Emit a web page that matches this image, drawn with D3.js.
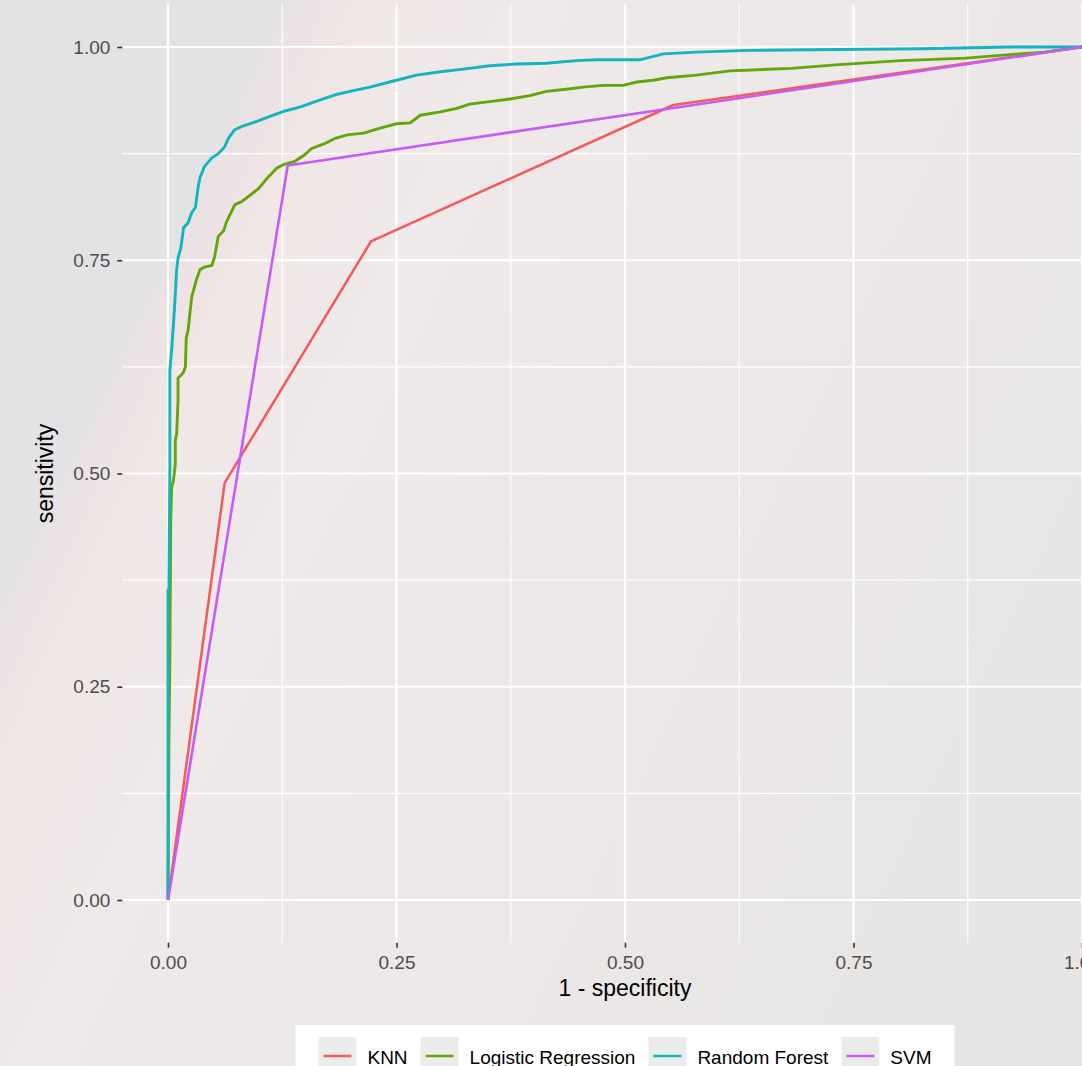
<!DOCTYPE html>
<html>
<head>
<meta charset="utf-8">
<script src="https://cdn.jsdelivr.net/npm/d3@7"></script>
<style>
	body { margin: 0; overflow: hidden; }
	svg { display: block; font-family: "Liberation Sans", Arial, sans-serif; }
</style>
</head>
<body>
<div id="container"></div>
<script>
const models = ["KNN", "Logistic Regression", "Random Forest", "SVM"];
const colors = ["#f35a5a", "#62a60a", "#12b5bb", "#c55cf7"];

const knnFpr = [0, 0.062, 0.222, 0.553, 1];
const knnTpr = [0, 0.489, 0.772, 0.932, 1];

const lrFpr = [0, 0.001, 0.002, 0.003, 0.004, 0.006, 0.008, 0.008, 0.0095, 0.011, 0.011, 0.015, 0.017, 0.019, 0.020, 0.022, 0.024, 0.026, 0.031, 0.035, 0.040, 0.048, 0.051, 0.055, 0.061, 0.064, 0.073, 0.081, 0.092, 0.099, 0.110, 0.119, 0.126, 0.139, 0.150, 0.157, 0.172, 0.183, 0.196, 0.214, 0.232, 0.250, 0.265, 0.276, 0.298, 0.316, 0.330, 0.352, 0.374, 0.396, 0.414, 0.440, 0.454, 0.476, 0.498, 0.513, 0.531, 0.546, 0.578, 0.615, 0.682, 0.730, 0.802, 0.873, 0.921, 0.959, 1];
const lrTpr = [0, 0.188, 0.276, 0.445, 0.484, 0.492, 0.512, 0.539, 0.547, 0.586, 0.612, 0.616, 0.619, 0.625, 0.659, 0.668, 0.688, 0.707, 0.727, 0.739, 0.742, 0.744, 0.754, 0.778, 0.785, 0.795, 0.815, 0.819, 0.828, 0.834, 0.848, 0.858, 0.862, 0.866, 0.874, 0.881, 0.887, 0.893, 0.897, 0.899, 0.905, 0.910, 0.911, 0.920, 0.924, 0.928, 0.933, 0.936, 0.939, 0.943, 0.948, 0.951, 0.953, 0.955, 0.955, 0.959, 0.961, 0.964, 0.967, 0.972, 0.975, 0.979, 0.984, 0.987, 0.991, 0.994, 1];

const rfFpr = [0, 0, 0.001, 0.002, 0.002, 0.004, 0.007, 0.0095, 0.011, 0.014, 0.017, 0.022, 0.026, 0.030, 0.033, 0.035, 0.040, 0.048, 0.055, 0.062, 0.066, 0.073, 0.081, 0.095, 0.110, 0.128, 0.146, 0.161, 0.183, 0.199, 0.221, 0.250, 0.272, 0.298, 0.323, 0.352, 0.381, 0.414, 0.447, 0.469, 0.516, 0.542, 0.578, 0.635, 0.730, 0.825, 0.920, 1];
const rfTpr = [0, 0.363, 0.366, 0.504, 0.621, 0.645, 0.692, 0.739, 0.753, 0.764, 0.788, 0.794, 0.806, 0.812, 0.836, 0.847, 0.860, 0.870, 0.875, 0.883, 0.893, 0.903, 0.907, 0.912, 0.918, 0.925, 0.930, 0.936, 0.944, 0.948, 0.953, 0.961, 0.967, 0.971, 0.974, 0.978, 0.980, 0.981, 0.984, 0.985, 0.985, 0.992, 0.994, 0.996, 0.997, 0.998, 1, 1];

const svmFpr = [0, 0.131, 1];
const svmTpr = [0, 0.861, 1];

const majorTicks = [0, 0.25, 0.5, 0.75, 1];
const minorTicks = [0.125, 0.375, 0.625, 0.875];

window.addEventListener("load", () => drawChart());

function drawChart() {
	const width = 1082;
	const height = 1066;

	const series = [
		{ name: models[0], fpr: knnFpr, tpr: knnTpr, w: 2.5 },
		{ name: models[1], fpr: lrFpr, tpr: lrTpr, w: 2.9 },
		{ name: models[2], fpr: rfFpr, tpr: rfTpr, w: 2.9 },
		{ name: models[3], fpr: svmFpr, tpr: svmTpr, w: 2.6 },
	];

	const colorScale = d3.scaleOrdinal().domain(models).range(colors);

	const xScale = d3.scaleLinear().domain([-0.05, 1.05]).range([122.3, 1127.7]);
	const yScale = d3.scaleLinear().domain([-0.05, 1.05]).range([942.65, 4.35]);

	const svg = d3
		.select("#container")
		.append("svg")
		.attr("width", width)
		.attr("height", height);

	// photo-like backdrop
	const grad = svg
		.append("defs")
		.append("linearGradient")
		.attr("id", "bg")
		.attr("gradientUnits", "userSpaceOnUse")
		.attr("x1", 0)
		.attr("y1", 0)
		.attr("x2", 1087)
		.attr("y2", 509);
	[
		[0, "#e2e2e4"],
		[0.21, "#e3e3e5"],
		[0.235, "#ede2e3"],
		[0.28, "#f1e7e7"],
		[0.4, "#efe9e9"],
		[0.7, "#ece8e8"],
		[1, "#e8e5e5"],
	].forEach(([o, c]) => grad.append("stop").attr("offset", o).attr("stop-color", c));

	svg.append("rect").attr("width", width).attr("height", height).attr("fill", "url(#bg)");

	// grid
	const grid = svg.append("g").attr("class", "grid");
	const [x0, x1] = xScale.range();
	const [y0, y1] = yScale.range();

	function gridLines(cls, ticks, vertical, w) {
		grid.selectAll("." + cls)
			.data(ticks)
			.enter()
			.append("line")
			.attr("class", cls)
			.attr("x1", (d) => (vertical ? xScale(d) : x0))
			.attr("x2", (d) => (vertical ? xScale(d) : x1))
			.attr("y1", (d) => (vertical ? y0 : yScale(d)))
			.attr("y2", (d) => (vertical ? y1 : yScale(d)))
			.attr("stroke", "#fff")
			.attr("stroke-width", w);
	}
	gridLines("vminor", minorTicks, true, 1.1);
	gridLines("hminor", minorTicks, false, 1.1);
	gridLines("vmajor", majorTicks, true, 2.2);
	gridLines("hmajor", majorTicks, false, 2.2);

	// axes
	const xAxis = d3
		.axisBottom(xScale)
		.tickValues(majorTicks)
		.tickFormat(d3.format(".2f"))
		.tickSize(5)
		.tickPadding(8);
	const yAxis = d3
		.axisLeft(yScale)
		.tickValues(majorTicks)
		.tickFormat(d3.format(".2f"))
		.tickSize(5)
		.tickPadding(7);

	const gx = svg.append("g").attr("transform", `translate(0, ${y0})`).call(xAxis);
	const gy = svg.append("g").attr("transform", `translate(${x0}, 0)`).call(yAxis);
	[gx, gy].forEach((g) => {
		g.select(".domain").remove();
		g.selectAll(".tick line").attr("stroke", "#333").attr("stroke-width", 1.6);
		g.selectAll(".tick text")
			.attr("fill", "#4d4d4d")
			.style("font-size", "19px")
			.style("font-family", "Liberation Sans, Arial, sans-serif");
	});

	svg.append("text")
		.attr("x", xScale(0.5))
		.attr("y", 996)
		.attr("text-anchor", "middle")
		.style("font-size", "23px")
		.text("1 - specificity");

	svg.append("text")
		.attr("transform", `translate(53, ${yScale(0.5)}) rotate(-90)`)
		.attr("text-anchor", "middle")
		.style("font-size", "23px")
		.text("sensitivity");

	// curves
	const lineGenerator = d3
		.line()
		.x((d) => xScale(d[0]))
		.y((d) => yScale(d[1]));

	svg.append("g")
		.attr("class", "curves")
		.selectAll("path")
		.data(series)
		.enter()
		.append("path")
		.attr("d", (s) => lineGenerator(s.fpr.map((f, i) => [f, s.tpr[i]])))
		.attr("fill", "none")
		.attr("stroke", (s) => colorScale(s.name))
		.attr("stroke-width", (s) => s.w)
		.attr("stroke-linejoin", "round");

	// legend
	const keySize = 38;
	const legend = svg.append("g").attr("class", "legend");
	const box = legend.append("rect").attr("fill", "#fff");
	const items = legend
		.selectAll(".item")
		.data(models)
		.enter()
		.append("g")
		.attr("class", "item");
	items.append("rect")
		.attr("width", keySize)
		.attr("height", keySize)
		.attr("y", 1037)
		.attr("fill", "#ebebeb");
	items.append("line")
		.attr("x1", 5)
		.attr("x2", keySize - 5)
		.attr("y1", 1037 + keySize / 2)
		.attr("y2", 1037 + keySize / 2)
		.attr("stroke", (d) => colorScale(d))
		.attr("stroke-width", 2.5);
	const labels = items
		.append("text")
		.attr("x", keySize + 11)
		.attr("y", 1064)
		.style("font-size", "19px")
		.text((d) => d);

	let offset = 0;
	const positions = [];
	labels.each(function () {
		positions.push(offset);
		offset += keySize + 11 + this.getComputedTextLength() + 13;
	});
	const total = offset - 13;
	const pad = 23;
	const start = xScale(0.5) - total / 2;
	items.attr("transform", (d, i) => `translate(${start + positions[i]}, 0)`);
	box.attr("x", start - pad)
		.attr("y", 1025)
		.attr("width", total + pad * 2)
		.attr("height", 80);
}
</script>
</body>
</html>
